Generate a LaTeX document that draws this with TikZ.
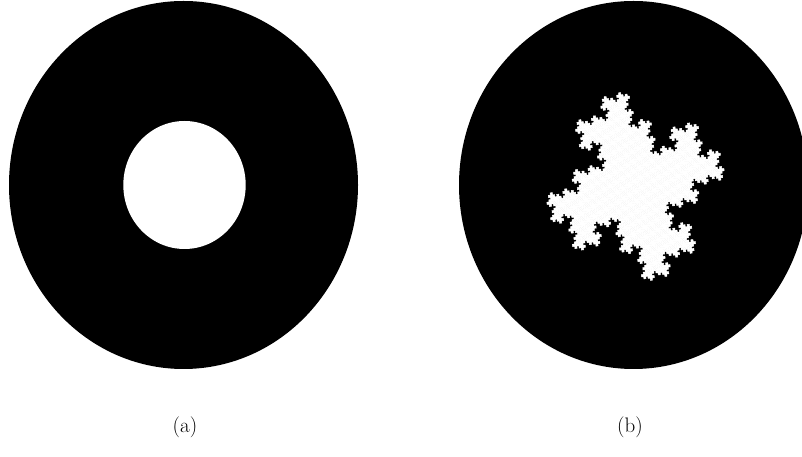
\documentclass[tikz,border=0pt]{standalone}
\usetikzlibrary{positioning}
\tikzset{disc/.style={fill=black}, hole/.style={fill=white}, cell/.style={fill=white, draw=white, line width=0.5pt},
  caption/.style={font=\fontsize{21}{25}\selectfont, inner sep=0pt}}
% fractal cross tile, base 2+i, digits 0,+-1,+-i
\newcommand\crosstile[1]{%
  \ifnum#1=0
    \path[cell] (-0.5,-0.5) -- (0.5,-0.5) -- (0.5,0.5) -- (-0.5,0.5) -- cycle;%
  \else
    \pgfmathtruncatemacro\tilelevel{#1-1}%
    \foreach \sx/\sy in {0/0,0.4/-0.2,-0.4/0.2,0.2/0.4,-0.2/-0.4}{%
      \begin{scope}[cm={0.4,-0.2,0.2,0.4,(\sx,\sy)}]
        \crosstile{\tilelevel}
      \end{scope}}%
  \fi}

\begin{document}
\begin{tikzpicture}[x=1pt,y=1pt]
    \useasboundingbox (0,0) rectangle (802,457);
    \clip (0,0) rectangle (802,457);
    % (a) disc with a round hole
    \fill[disc] (183.5,272) ellipse [x radius=174.5, y radius=184];
    \fill[hole] (184.5,272) ellipse [x radius=61.2, y radius=64];
    % (b) disc with a fractal hole
    \fill[disc] (633.5,272) ellipse [x radius=174.5, y radius=184];
    \begin{scope}[shift={(635.5,270.5)}, xscale=118, yscale=125, rotate=49]
        \crosstile{5}
    \end{scope}
    % Labels
    \node[caption] (capa) at (185,30) {(a)};
    \node[caption] (capb) at (630,30) {(b)};
\end{tikzpicture}
\end{document}
